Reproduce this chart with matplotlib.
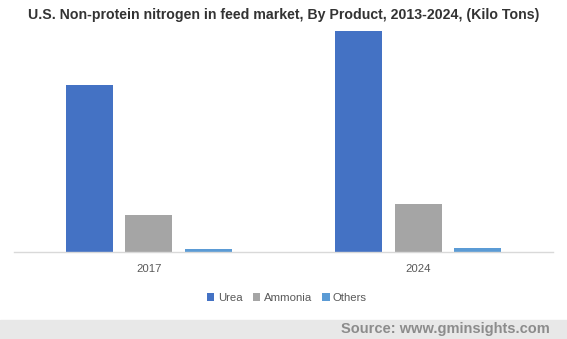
import numpy as np
import matplotlib.pyplot as plt
from matplotlib.patches import Rectangle

plt.rcParams['font.family'] = ['Liberation Sans', 'DejaVu Sans']

years = ["2017", "2024"]
products = ["Urea", "Ammonia", "Others"]
urea = [167, 221]
ammonia = [37, 48]
others = [3, 4]
colors = ["#4472C4", "#A5A5A5", "#5B9BD5"]

W, H = 567, 339
fig = plt.figure(figsize=(W / 100, H / 100), dpi=100)
ax = fig.add_axes([14 / W, (H - 252) / H, 539 / W, 227 / H])

x = np.arange(len(years))
width = 0.175
step = 0.221
for i, (vals, name) in enumerate(zip([urea, ammonia, others], products)):
    ax.bar(x + (i - 1) * step, vals, width, color=colors[i], label=name)

ax.set_xlim(-0.5, 1.5)
ax.set_ylim(0, 227)
ax.set_xticks(x)
ax.set_xticklabels(years, fontsize=8.2, color="#595959")
ax.tick_params(axis="x", length=0, pad=9)
ax.set_yticks([])
for s in ["top", "left", "right"]:
    ax.spines[s].set_visible(False)
ax.spines["bottom"].set_color("#d9d9d9")
ax.spines["bottom"].set_linewidth(1)

fig.text(0.5, 1 - 15 / H, "U.S. Non-protein nitrogen in feed market, By Product, 2013-2024, (Kilo Tons)",
         ha="center", va="center", fontsize=10.2, fontweight="bold", color="#333333")

leg = fig.legend(loc="center", bbox_to_anchor=(287 / W, 1 - 298 / H), ncol=3, frameon=False,
                 fontsize=8.2, handlelength=0.65, handleheight=0.65, handletextpad=0.3,
                 columnspacing=0.9)
for t in leg.get_texts():
    t.set_color("#595959")

# footer band with source
fig.patches.append(Rectangle((0, 0), 1, 19 / H, transform=fig.transFigure,
                             color="#e8e8e8", zorder=0))
fig.text(550 / W, 9.5 / H, "Source: www.gminsights.com", ha="right", va="center",
         fontsize=10.5, fontweight="bold", color="#8c8c8c")

fig.savefig("out.png", dpi=100)
